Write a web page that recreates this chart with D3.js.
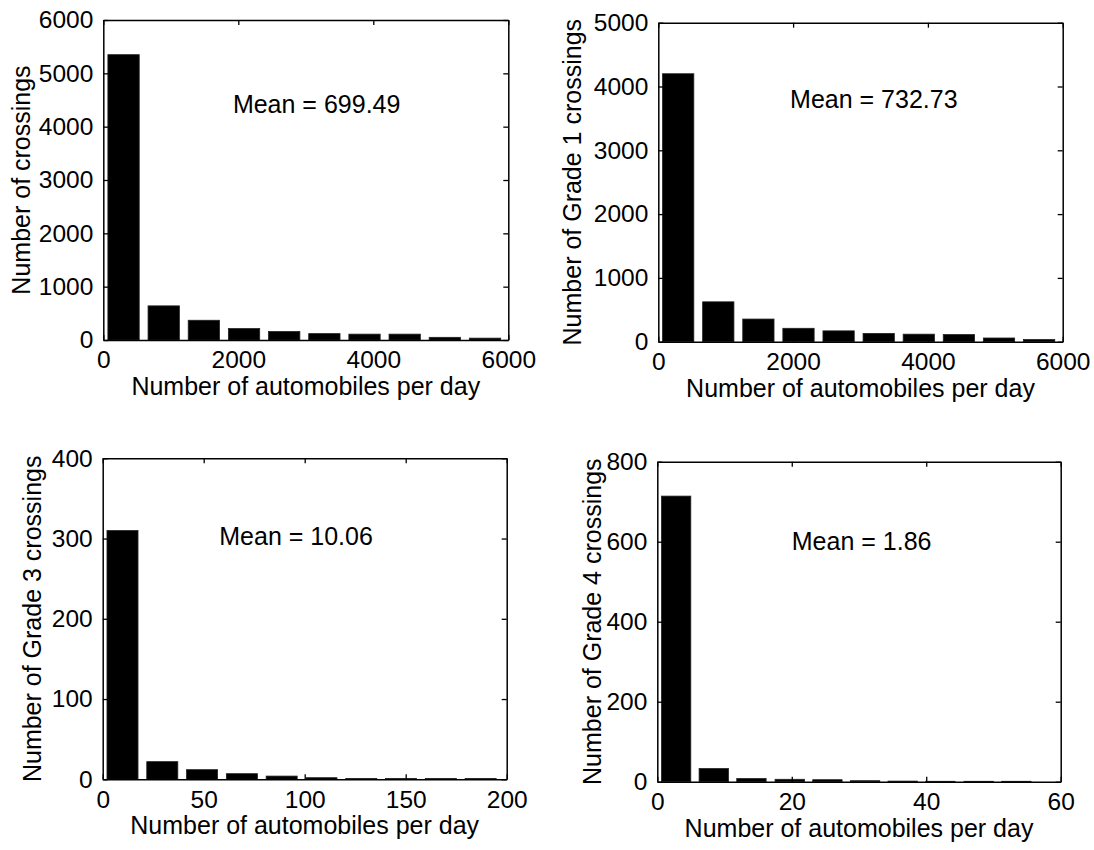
<!DOCTYPE html>
<html>
<head>
<meta charset="utf-8">
<script src="https://cdn.jsdelivr.net/npm/d3@7"></script>
<style>
  html, body { margin: 0; padding: 0; background: #fff; }
  svg { display: block; }
  text { font-family: "Liberation Sans", Arial, Helvetica, sans-serif; fill: #000; }
</style>
</head>
<body>
<svg id="chart" width="1094" height="850"></svg>
<script>
// Histogram bin centres (automobiles per day) for each panel
const binsAll    = [300, 895, 1490, 2085, 2680, 3275, 3870, 4465, 5060, 5655];
const binsGrade1 = [295, 890, 1485, 2080, 2675, 3270, 3865, 4460, 5055, 5650];
const binsGrade3 = [9.8, 29.5, 49.2, 68.9, 88.6, 108.3, 128, 147.7, 167.4, 187.1];
const binsGrade4 = [2.8, 8.4, 14.0, 19.7, 25.3, 30.9, 36.5, 42.1, 47.8, 53.4];

// Crossing counts per bin
const countsAll    = [5350, 640, 370, 215, 160, 120, 110, 110, 50, 35];
const countsGrade1 = [4200, 625, 355, 210, 170, 130, 118, 112, 58, 35];
const countsGrade3 = [310, 22, 12, 7, 4, 2, 1, 1, 1, 1];
const countsGrade4 = [714, 33, 8, 6, 5, 2.5, 1.5, 1, 1, 1];

// Axis ticks
const xTicksLarge = [0, 2000, 4000, 6000];
const xTicksG3    = [0, 50, 100, 150, 200];
const xTicksG4    = [0, 20, 40, 60];
const yTicksAll   = [0, 1000, 2000, 3000, 4000, 5000, 6000];
const yTicksG1    = [0, 1000, 2000, 3000, 4000, 5000];
const yTicksG3    = [0, 100, 200, 300, 400];
const yTicksG4    = [0, 200, 400, 600, 800];

// Mean annotations
const meanLabels = ["Mean = 699.49", "Mean = 732.73", "Mean = 10.06", "Mean = 1.86"];
const meanPos    = [[1920, 4250], [1955, 3658], [57.7, 292], [20, 579]];

const yLabels = ["Number of crossings", "Number of Grade 1 crossings",
                 "Number of Grade 3 crossings", "Number of Grade 4 crossings"];
const xLabel = "Number of automobiles per day";

const panels = [
  { bins: binsAll,    counts: countsAll,    xMax: 6000, yMax: 6000, xTicks: xTicksLarge, yTicks: yTicksAll,
    box: { left: 103.3, right: 508.3, top: 20,    bottom: 340 },   ylabOff: 73 },
  { bins: binsGrade1, counts: countsGrade1, xMax: 6000, yMax: 5000, xTicks: xTicksLarge, yTicks: yTicksG1,
    box: { left: 658.3, right: 1062.7, top: 22.7, bottom: 341.7 }, ylabOff: 77 },
  { bins: binsGrade3, counts: countsGrade3, xMax: 200,  yMax: 400,  xTicks: xTicksG3,    yTicks: yTicksG3,
    box: { left: 102.7, right: 506.7, top: 458.3, bottom: 779.3 }, ylabOff: 62 },
  { bins: binsGrade4, counts: countsGrade4, xMax: 60,   yMax: 800,  xTicks: xTicksG4,    yTicks: yTicksG4,
    box: { left: 657.3, right: 1060.7, top: 461.7, bottom: 781.7 }, ylabOff: 56 }
];

const svg = d3.select("#chart");
const FS = 25;       // label font size
const TFS = 24.5;    // tick font size
const TICK = 5;

panels.forEach((p, i) => {
  const b = p.box;
  const x = d3.scaleLinear().domain([0, p.xMax]).range([b.left, b.right]);
  const y = d3.scaleLinear().domain([0, p.yMax]).range([b.bottom, b.top]);
  const g = svg.append("g");

  // bars
  const step = p.bins[1] - p.bins[0];
  const halfW = step * 0.78 / 2;
  g.selectAll("rect.bar")
    .data(p.bins.map((c, k) => ({ c, v: p.counts[k] })))
    .join("rect")
    .attr("class", "bar")
    .attr("x", d => x(d.c - halfW))
    .attr("width", d => x(d.c + halfW) - x(d.c - halfW))
    .attr("y", d => y(d.v))
    .attr("height", d => y(0) - y(d.v))
    .attr("fill", "#000")
    .attr("stroke", "#222")
    .attr("stroke-width", 0.8);

  // axes with inward ticks on all four sides
  const styleAxis = sel => {
    sel.selectAll(".domain").attr("stroke", "#000").attr("stroke-width", 1.5);
    sel.selectAll(".tick line").attr("stroke", "#000").attr("stroke-width", 1.3);
    sel.selectAll(".tick text").style("font-size", TFS + "px")
      .style("font-family", '"Liberation Sans", Arial, Helvetica, sans-serif');
  };

  g.append("g").attr("transform", `translate(0,${b.bottom})`)
    .call(d3.axisBottom(x).tickValues(p.xTicks).tickFormat(d3.format("d"))
      .tickSizeInner(-TICK).tickSizeOuter(0).tickPadding(11))
    .call(styleAxis);
  g.append("g").attr("transform", `translate(0,${b.top})`)
    .call(d3.axisTop(x).tickValues(p.xTicks).tickFormat("")
      .tickSizeInner(-TICK).tickSizeOuter(0))
    .call(styleAxis);
  g.append("g").attr("transform", `translate(${b.left},0)`)
    .call(d3.axisLeft(y).tickValues(p.yTicks).tickFormat(d3.format("d"))
      .tickSizeInner(-TICK).tickSizeOuter(0).tickPadding(10))
    .call(styleAxis);
  g.append("g").attr("transform", `translate(${b.right},0)`)
    .call(d3.axisRight(y).tickValues(p.yTicks).tickFormat("")
      .tickSizeInner(-TICK).tickSizeOuter(0))
    .call(styleAxis);

  // mean annotation
  g.append("text")
    .attr("x", x(meanPos[i][0]))
    .attr("y", y(meanPos[i][1]))
    .style("font-size", FS + "px")
    .text(meanLabels[i]);

  // axis titles
  g.append("text")
    .attr("x", (b.left + b.right) / 2)
    .attr("y", b.bottom + 55)
    .attr("text-anchor", "middle")
    .style("font-size", FS + "px")
    .text(xLabel);

  g.append("text")
    .attr("transform", `translate(${b.left - p.ylabOff},${(b.top + b.bottom) / 2}) rotate(-90)`)
    .attr("text-anchor", "middle")
    .style("font-size", FS + "px")
    .text(yLabels[i]);
});
</script>
</body>
</html>
